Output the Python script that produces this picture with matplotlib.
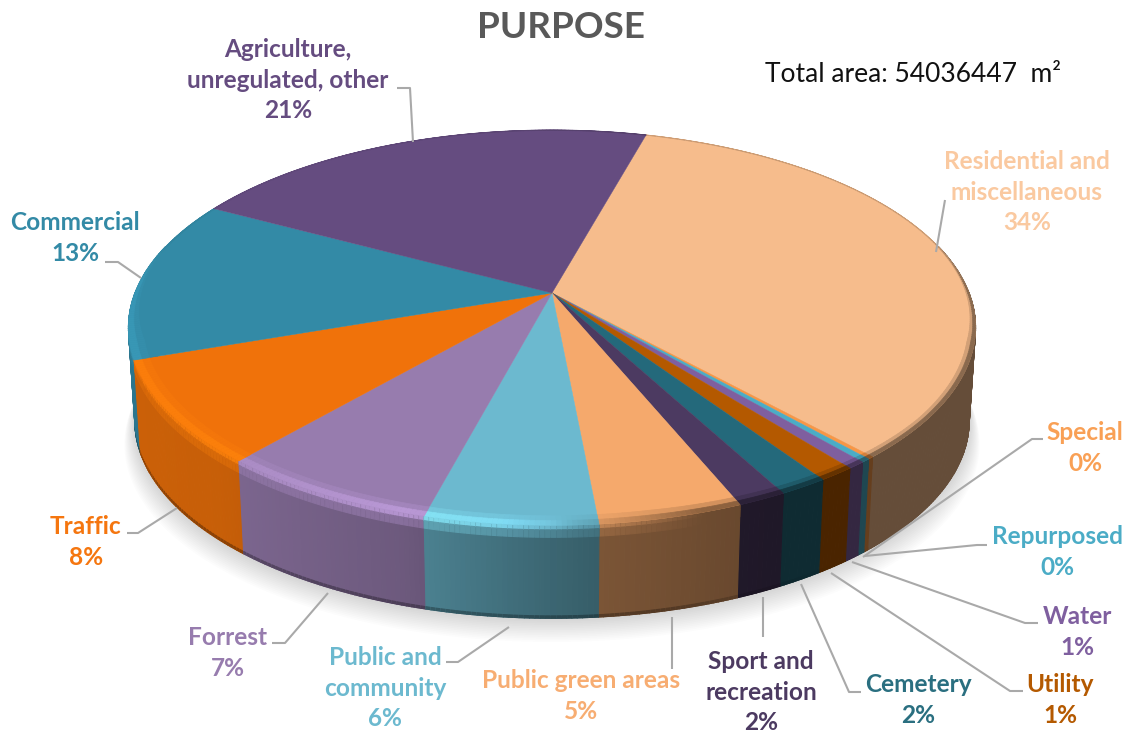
import numpy as np
import matplotlib
matplotlib.use("Agg")
import matplotlib.pyplot as plt
from matplotlib.collections import PolyCollection
from matplotlib.colors import to_rgb

# slices clockwise, starting from Residential
categories = ['Residential and\nmiscellaneous', 'Special', 'Repurposed', 'Water', 'Utility', 'Cemetery',
              'Sport and\nrecreation', 'Public green areas', 'Public and\ncommunity', 'Forrest', 'Traffic',
              'Commercial', 'Agriculture,\nunregulated, other']
shares = [34.2, 0.2, 0.3, 0.6, 1.2, 1.6, 1.6, 4.7, 5.6, 7.2, 8.4, 13.3, 21.4]
percent_labels = ['34%', '0%', '0%', '1%', '1%', '2%', '2%', '5%', '6%', '7%', '8%', '13%', '21%']
colors = ['#f6bc8c', '#f79646', '#4bacc6', '#7f5f9f', '#b45900', '#24697b', '#4c3a61',
          '#f5a96c', '#6cb9cf', '#977cae', '#f0720a', '#338aa6', '#654c80']
label_colors = ['#fac9a0', '#f9a055', '#4bacc6', '#7f5f9f', '#b45900', '#2a6f80', '#4c3a61',
                '#f7ad72', '#6cb9cf', '#977cae', '#f5760f', '#338aa6', '#654c80']

total_area = 54036447

# label centres and leader lines, in pixels
label_pos = [(1027, 192), (1085, 448), (1057, 552), (1077, 632), (1060, 700), (918, 700),
             (761, 692), (581, 696), (385, 688), (228, 653), (86, 542), (75, 238), (288, 80)]
leaders = [[(936, 252), (945, 200)],
           [(863, 557), (1032, 439), (1043, 439)],
           [(865, 556), (977, 545), (987, 545)],
           [(852, 562), (1025, 623), (1038, 623)],
           [(831, 573), (1010, 691), (1023, 691)],
           [(801, 584), (849, 692), (861, 692)],
           [(763, 597), (763, 637)],
           [(672, 617), (672, 669)],
           [(509, 627), (458, 662), (446, 662)],
           [(328, 593), (285, 643), (272, 643)],
           [(177, 508), (138, 533), (127, 533)],
           [(141, 278), (118, 262), (105, 262)],
           [(413, 142), (410, 88), (397, 88)]]

CX, CY = 552, 293
R, B, K = 417, 191.6, 0.175
H = 93
START = 15.3
FONT = ['Lato', 'DejaVu Sans']


def project(t, r=1.0, depth=0.0):
    # t in degrees clockwise from the top, perspective on the pie plane
    a = np.radians(t)
    x, y = r * np.sin(a), r * np.cos(a)
    f = 1 + K * y
    px = R * x / f
    py = -B * y / f
    return CX + px * (1 - 0.015 * depth), CY + py + H * depth


def shade(x):
    return np.interp(x, [-1, -0.7, -0.3, 0.0, 0.1, 0.45, 1], [0.85, 0.83, 0.72, 0.55, 0.5, 0.41, 0.41])


def glow(x):
    return np.interp(x, [-1, -0.7, -0.3, -0.1, 0.05, 1], [1.12, 1.15, 1.3, 1.25, 1.0, 1.0])


fig = plt.figure(figsize=(11.34, 7.36), dpi=100)
ax = fig.add_axes([0, 0, 1, 1])
ax.set_xlim(0, 1134)
ax.set_ylim(736, 0)
ax.axis('off')

angles = np.cumsum([0] + shares) * 360 / sum(shares) + START

# soft shadow
tt = np.linspace(0, 360, 241)
sx, sy = project(tt, 1.0, 1.0)
for i in range(14):
    grow = 1 + 0.0018 * (14 - i)
    ax.fill(CX + (sx - CX) * grow, sy + (14 - i) * 1.7, color='k', alpha=0.011, lw=0, zorder=1)

wall_parts, top_q, top_c, rim_q, rim_c = [], [], [], [], []
for i in range(len(shares)):
    t0, t1 = angles[i], angles[i + 1]
    n = max(2, int((t1 - t0) / 0.6))
    ts = np.linspace(t0, t1, n + 1)
    col = np.array(to_rgb(colors[i]))

    # flat top
    px, py = project(ts, 1.0)
    top_q.append(np.column_stack([np.r_[CX, px], np.r_[CY, py]]))
    top_c.append(col)

    for a, b in zip(ts[:-1], ts[1:]):
        m = (a + b) / 2
        xn = np.sin(np.radians(m))
        cs = np.cos(np.radians(m))
        side = np.clip(col * shade(xn), 0, 1)
        front = np.clip((0.35 - cs) / 0.6, 0, 1)
        # highlight on the left, melting into the wall colour on the right
        to_side = np.clip((xn - 0.0) / 0.3, 0, 1)
        edge = np.clip(col * glow(xn), 0, 1) * (1 - to_side) + side * to_side

        # wall, front part only, with the rounded shoulder on top of it
        if cs < 0.25:
            parts = [([project(a), project(b), project(b, 1.0, 1.0), project(a, 1.0, 1.0)], side)]
            low = np.interp(xn, [-1, 0.2, 0.6], [0.7, 0.7, 1.0])
            parts.append(([project(a, 1.0, 0.975), project(b, 1.0, 0.975), project(b, 1.0, 1.0), project(a, 1.0, 1.0)],
                          side * low))
            steps = [(0.0, edge), (0.05, edge * 0.6 + side * 0.4), (0.13, side)]
            for (d0, c0), (d1, c1) in zip(steps[:-1], steps[1:]):
                parts.append(([project(a, 1.0, d0), project(b, 1.0, d0), project(b, 1.0, d1), project(a, 1.0, d1)],
                              np.clip((c0 + c1) / 2, 0, 1)))
            wall_parts.append((cs, parts))

        # rim on the face: wide in front, a thin edge around the back
        w = (0.004 + 0.03 * front ** 2) * np.interp(xn, [0.2, 0.8], [1.0, 0.5])
        fade = np.clip((front - 0.1) / 0.4, 0, 1)
        rim_edge = (col * 0.6 + side * 0.4) * (1 - fade) + edge * fade
        rings = [(1 - w, col), (1 - w / 2, col * 0.5 + rim_edge * 0.5), (1.0, rim_edge)]
        for (r0, c0), (r1, c1) in zip(rings[:-1], rings[1:]):
            rim_q.append([project(a, r0), project(b, r0), project(b, r1), project(a, r1)])
            rim_c.append(np.clip((c0 + c1) / 2, 0, 1))

# far wall pieces first, so nearer slices cover them at the silhouette
wall_parts.sort(key=lambda p: -p[0])
wall_q = [q for _, parts in wall_parts for q, _ in parts]
wall_c = [c for _, parts in wall_parts for _, c in parts]

ax.add_collection(PolyCollection(wall_q, facecolors=wall_c, edgecolors=wall_c, linewidths=0.8, zorder=2))
ax.add_collection(PolyCollection(top_q, facecolors=top_c, edgecolors=top_c, linewidths=0.3, zorder=3))
ax.add_collection(PolyCollection(rim_q, facecolors=rim_c, edgecolors=rim_c, linewidths=0.5, zorder=4))

for pts in leaders:
    xs, ys = zip(*pts)
    ax.plot(xs, ys, color='#a9a9a9', lw=1.5, zorder=5, solid_capstyle='butt')

for name, pct, (x, y), c in zip(categories, percent_labels, label_pos, label_colors):
    ax.text(x, y, name + '\n' + pct, ha='center', va='center', color=c, fontsize=17.6,
            fontweight='bold', family=FONT, linespacing=1.38, zorder=6)

ax.text(561, 27, 'PURPOSE', ha='center', va='center', color='#595959', fontsize=26.6, fontweight='bold', family=FONT)
ax.text(765, 75, f'Total area: {total_area}  m²', ha='left', va='center', color='#111111', fontsize=19, family=FONT)

fig.savefig('out.png', dpi=100)
